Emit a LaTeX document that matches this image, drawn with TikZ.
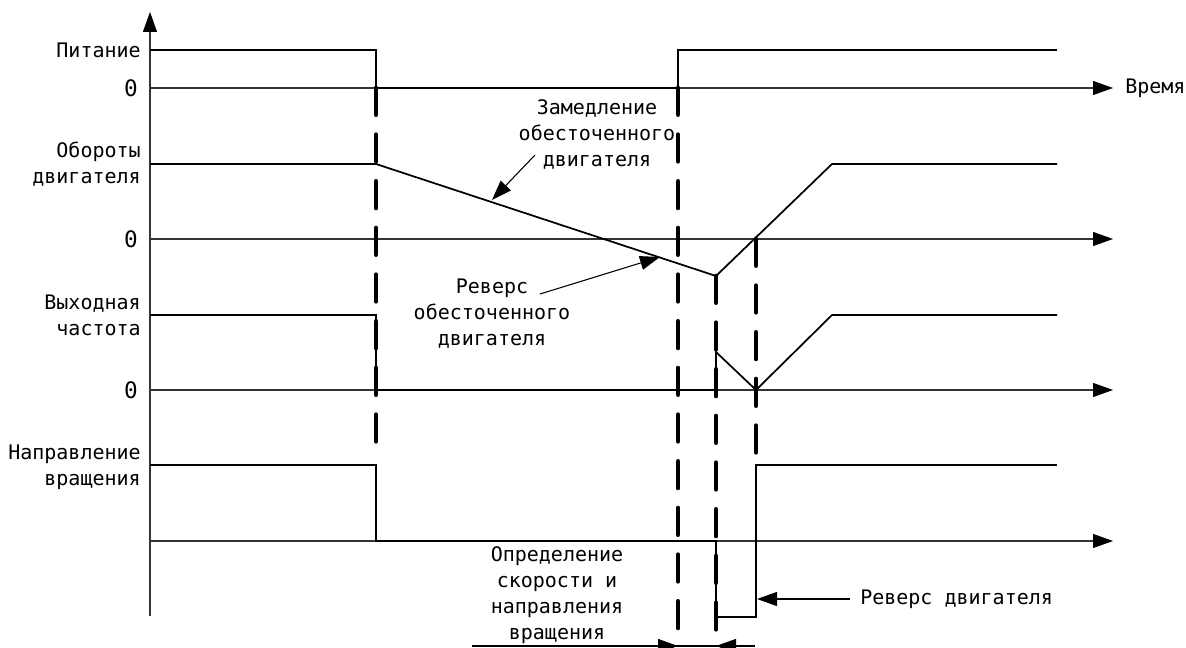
\documentclass[tikz,border=0pt]{standalone}
\usepackage{fontspec}
\setmainfont{DejaVu Sans Mono}
\usetikzlibrary{arrows.meta}

\begin{document}
\begin{tikzpicture}[>={Triangle[length=15pt,width=10.5pt,color=black]},x=0.75pt,y=-0.75pt,
		font=\fontsize{15}{19.5}\selectfont,
		axis/.style={draw=black!80,line width=0.8pt},
		sig/.style={line width=1.3pt,line join=miter},
		cut/.style={line width=3.5pt,line cap=round,dash pattern=on 20pt off 15pt},
		note/.style={line width=0.8pt},
		lab/.style={inner sep=0pt,align=right,anchor=east}]
		\useasboundingbox (0,0) rectangle (1186,648);
		% axes
		\draw[axis,->] (150,616)--(150,12);
		\foreach \y/\n in {88/a,239/b,390/c,541/d}{
			\draw[axis,->] (150,\y)--(1113,\y) coordinate (end\n);
		}
		\foreach \y/\n in {88/a,239/b,390/c}{
			\node[lab,font=\fontsize{17}{19.5}\selectfont] (zero\n) at (138,\y) {0};
		}
		\node[inner sep=0pt,anchor=west] (time) at (1125,88) {Время};
		% signal names
		\node[lab] (power) at (141,50) {Питание};
		\node[lab] (speed) at (141,164) {Обороты\\двигателя};
		\node[lab] (freq) at (141,315) {Выходная\\частота};
		\node[lab] (dir) at (141,467) {Направление\\вращения};
		% signals
		\draw[sig] (150,50) -| (376,88) -- (678,88) |- (1057,50);
		\draw[sig] (150,164) -- (376,164) -- (716,276) -- (832,164) -- (1057,164);
		\draw[sig] (150,315) -| (376,390) -- (716,390) -- (716,352) -- (756,390) -- (832,315) -- (1057,315);
		\draw[sig] (150,465) -| (376,541) -- (716,541) -- (716,617) -- (756,617) -- (756,465) -- (1057,465);
		% cut lines
		\draw[cut] (376,88)--(376,455);
		\draw[cut] (678,88)--(678,646);
		\draw[cut] (716,276)--(716,644);
		\draw[cut] (756,239)--(756,465);
		% notes
		\node[inner sep=0pt,align=center] (slow) at (597,134) {Замедление\\обесточенного\\двигателя};
		\node[inner sep=0pt,align=center] (rev) at (492,314) {Реверс\\обесточенного\\двигателя};
		\node[inner sep=0pt,align=center] (detect) at (557,595) {Определение\\скорости и\\направления\\вращения};
		\node[inner sep=0pt,anchor=west] (motor) at (860,599) {Реверс двигателя};
		\coordinate (slowA) at (535,155);
		\coordinate (slowB) at (492,200);
		\coordinate (revA) at (540,294);
		\coordinate (revB) at (660,257);
		\coordinate (motorA) at (850,599);
		\coordinate (motorB) at (757,599);
		\draw[note,->] (slowA)--(slowB);
		\draw[note,->] (revA)--(revB);
		\draw[note,->] (motorA)--(motorB);
		% detection window
		\coordinate (winL) at (472,646);
		\coordinate (winR) at (755,646);
		\coordinate (winA) at (678,646);
		\coordinate (winB) at (716,646);
		\draw[note] (winL)--(winR);
		\draw[note,->] (winL)--(winA);
		\draw[note,->] (winR)--(winB);
	\end{tikzpicture}
\end{document}
